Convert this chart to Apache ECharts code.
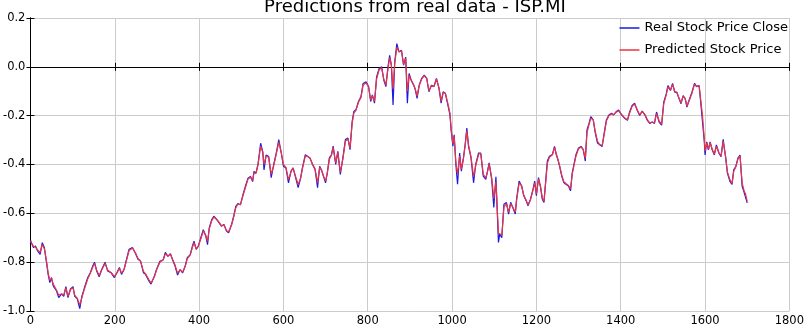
<!DOCTYPE html>
<html>
<head>
<meta charset="utf-8">
<script src="https://cdn.jsdelivr.net/npm/echarts@6/dist/echarts.min.js"></script>
<style>
html,body{margin:0;padding:0;background:#fff;}
#chart{width:807px;height:327px;}
</style>
</head>
<body>
<div id="chart"></div>
<script>
const chartTitle = 'Predictions from real data - ISP.MI';
const seriesNames = ['Real Stock Price Close', 'Predicted Stock Price'];
const xTicks = [0, 200, 400, 600, 800, 1000, 1200, 1400, 1600, 1800];
const yTicks = [-1.0, -0.8, -0.6, -0.4, -0.2, 0.0, 0.2];

const steps = [0,7,12,17,23,28,33,38,42,46,50,54,62,67,74,79,84,89,95,101,105,111,117,122,128,136,142,148,152,157,163,169,177,183,191,199,205,211,216,222,228,234,242,246,250,255,261,268,273,281,286,
290,294,299,307,315,320,326,332,337,343,349,355,361,367,372,379,384,388,393,398,404,410,416,420,424,430,435,442,448,453,459,465,470,477,482,487,492,498,504,511,516,522,527,530,535,540,546,551,554,559,565,
571,577,583,589,595,600,606,612,618,623,630,635,641,645,652,657,663,669,675,681,686,691,696,700,704,709,714,718,724,729,735,741,747,753,758,763,767,772,778,784,789,796,802,807,811,816,821,827,833,838,843,
848,852,856,860,864,869,874,880,885,890,894,898,903,909,913,917,922,928,934,940,945,951,957,963,969,974,979,984,990,995,998,1002,1005,1009,1013,1018,1022,1027,1031,1035,1039,1045,1051,1056,1063,1068,1074,1080,1084,1088,1094,1099,1104,1110,1113,1118,1123,1129,
1134,1139,1144,1150,1153,1159,1165,1170,1176,1180,1186,1192,1196,1200,1205,1210,1214,1218,1222,1226,1231,1238,1243,1247,1251,1255,1260,1265,1270,1276,1281,1285,1289,1294,1300,1306,1311,1316,1320,1325,1329,1335,1339,1345,1350,1356,1362,1366,1372,1378,1383,1389,1395,1402,
1410,1416,1421,1427,1433,1439,1445,1451,1458,1463,1469,1475,1480,1485,1491,1497,1502,1508,1512,1518,1523,1528,1533,1537,1543,1548,1553,1557,1562,1569,1575,1580,1586,1590,1594,1598,1600,1604,1608,1612,1617,1622,1627,1633,1638,1643,1649,1653,1659,1664,1668,1673,1678,1683,1688,1693,1696,1700];

const realClose = [-0.71,-0.74,-0.734,-0.754,-0.768,-0.72,-0.74,-0.80,-0.85,-0.884,-0.863,-0.897,-0.918,-0.945,-0.93,-0.94,-0.90,-0.945,-0.91,-0.90,-0.94,-0.95,-0.99,-0.94,-0.905,-0.863,-0.843,-0.815,-0.80,-0.836,-0.86,-0.83,-0.80,-0.836,-0.843,-0.863,-0.843,-0.822,-0.85,-0.83,-0.788,-0.747,-0.74,-0.738,-0.768,-0.788,-0.795,-0.843,-0.85,-0.877,-0.89,
-0.89,-0.857,-0.83,-0.796,-0.79,-0.76,-0.776,-0.765,-0.79,-0.816,-0.853,-0.83,-0.844,-0.816,-0.782,-0.769,-0.735,-0.714,-0.748,-0.735,-0.70,-0.667,-0.694,-0.728,-0.66,-0.626,-0.612,-0.626,-0.64,-0.653,-0.646,-0.673,-0.68,-0.646,-0.612,-0.571,-0.56,-0.565,-0.524,-0.483,-0.456,-0.449,-0.47,-0.429,-0.435,-0.395,-0.313,-0.347,-0.422,-0.361,-0.367,
-0.454,-0.40,-0.353,-0.298,-0.353,-0.407,-0.414,-0.475,-0.427,-0.414,-0.461,-0.495,-0.454,-0.414,-0.36,-0.366,-0.373,-0.40,-0.42,-0.495,-0.407,-0.427,-0.454,-0.475,-0.434,-0.373,-0.36,-0.325,-0.40,-0.346,-0.441,-0.373,-0.298,-0.292,-0.339,-0.224,-0.183,-0.176,-0.142,-0.122,-0.068,-0.061,-0.081,-0.142,-0.115,-0.149,-0.041,-0.007,0.0,-0.054,-0.081,
0.0,0.047,0.007,-0.156,0.02,0.095,0.061,0.068,0.007,0.04,-0.149,-0.027,-0.054,-0.075,-0.095,-0.129,-0.075,-0.047,-0.034,-0.047,-0.102,-0.075,-0.081,-0.047,-0.088,-0.149,-0.102,-0.108,-0.156,-0.197,-0.264,-0.325,-0.278,-0.40,-0.481,-0.353,-0.427,-0.373,-0.319,-0.251,-0.325,-0.373,-0.475,-0.40,-0.353,-0.353,-0.448,-0.461,-0.427,-0.393,-0.461,-0.576,-0.45,-0.719,-0.685,-0.70,-0.563,-0.556,
-0.603,-0.555,-0.576,-0.603,-0.542,-0.468,-0.488,-0.528,-0.549,-0.569,-0.542,-0.501,-0.468,-0.528,-0.454,-0.495,-0.542,-0.555,-0.468,-0.386,-0.366,-0.359,-0.326,-0.359,-0.38,-0.407,-0.447,-0.474,-0.481,-0.488,-0.508,-0.434,-0.40,-0.359,-0.332,-0.326,-0.339,-0.386,-0.258,-0.231,-0.204,-0.218,-0.265,-0.312,-0.319,-0.326,-0.258,-0.218,-0.197,-0.19,-0.197,-0.184,-0.177,-0.197,
-0.212,-0.219,-0.185,-0.158,-0.149,-0.178,-0.199,-0.181,-0.199,-0.219,-0.232,-0.226,-0.232,-0.185,-0.226,-0.239,-0.145,-0.111,-0.077,-0.097,-0.068,-0.104,-0.104,-0.124,-0.151,-0.118,-0.131,-0.165,-0.138,-0.104,-0.068,-0.081,-0.077,-0.084,-0.226,-0.30,-0.361,-0.307,-0.34,-0.307,-0.34,-0.361,-0.32,-0.354,-0.368,-0.297,-0.374,-0.435,-0.469,-0.482,-0.422,-0.408,-0.374,-0.361,-0.489,-0.516,-0.523,-0.557];

const predicted = [-0.715,-0.735,-0.738,-0.75,-0.76,-0.728,-0.745,-0.795,-0.845,-0.875,-0.865,-0.89,-0.915,-0.935,-0.93,-0.935,-0.905,-0.94,-0.912,-0.905,-0.935,-0.948,-0.975,-0.945,-0.91,-0.868,-0.845,-0.82,-0.805,-0.832,-0.855,-0.832,-0.805,-0.832,-0.842,-0.858,-0.845,-0.825,-0.845,-0.83,-0.792,-0.752,-0.742,-0.742,-0.765,-0.785,-0.795,-0.838,-0.848,-0.872,-0.885,
-0.885,-0.86,-0.832,-0.8,-0.79,-0.765,-0.775,-0.768,-0.788,-0.812,-0.845,-0.832,-0.84,-0.818,-0.785,-0.77,-0.74,-0.72,-0.745,-0.735,-0.705,-0.672,-0.69,-0.715,-0.665,-0.63,-0.615,-0.625,-0.638,-0.65,-0.648,-0.67,-0.675,-0.648,-0.615,-0.578,-0.562,-0.565,-0.528,-0.488,-0.46,-0.452,-0.465,-0.435,-0.435,-0.4,-0.325,-0.35,-0.40,-0.365,-0.37,
-0.44,-0.405,-0.358,-0.308,-0.352,-0.4,-0.412,-0.462,-0.43,-0.415,-0.455,-0.482,-0.455,-0.418,-0.365,-0.366,-0.374,-0.398,-0.418,-0.475,-0.412,-0.425,-0.45,-0.468,-0.436,-0.378,-0.362,-0.33,-0.392,-0.35,-0.43,-0.378,-0.305,-0.295,-0.332,-0.232,-0.19,-0.178,-0.145,-0.125,-0.075,-0.065,-0.082,-0.135,-0.118,-0.142,-0.05,-0.012,-0.004,-0.05,-0.075,
-0.008,0.038,0.008,-0.09,0.015,0.08,0.062,0.065,0.01,0.035,-0.1,-0.035,-0.055,-0.074,-0.092,-0.12,-0.078,-0.05,-0.036,-0.048,-0.098,-0.078,-0.08,-0.05,-0.086,-0.14,-0.105,-0.108,-0.15,-0.19,-0.255,-0.315,-0.285,-0.39,-0.44,-0.365,-0.42,-0.375,-0.322,-0.262,-0.32,-0.37,-0.45,-0.405,-0.358,-0.355,-0.44,-0.455,-0.43,-0.398,-0.455,-0.54,-0.47,-0.68,-0.685,-0.69,-0.575,-0.56,
-0.595,-0.56,-0.575,-0.595,-0.548,-0.475,-0.488,-0.525,-0.548,-0.565,-0.545,-0.505,-0.475,-0.52,-0.46,-0.492,-0.538,-0.55,-0.475,-0.395,-0.37,-0.36,-0.33,-0.355,-0.378,-0.405,-0.442,-0.47,-0.478,-0.486,-0.5,-0.44,-0.405,-0.365,-0.335,-0.328,-0.338,-0.375,-0.27,-0.235,-0.21,-0.218,-0.26,-0.305,-0.318,-0.322,-0.265,-0.222,-0.2,-0.192,-0.196,-0.186,-0.18,-0.195,
-0.21,-0.217,-0.19,-0.162,-0.152,-0.175,-0.196,-0.183,-0.197,-0.216,-0.23,-0.226,-0.23,-0.192,-0.222,-0.235,-0.152,-0.115,-0.082,-0.095,-0.072,-0.1,-0.104,-0.122,-0.148,-0.12,-0.13,-0.16,-0.14,-0.108,-0.072,-0.08,-0.078,-0.085,-0.2,-0.29,-0.345,-0.312,-0.338,-0.31,-0.338,-0.358,-0.325,-0.352,-0.365,-0.305,-0.37,-0.43,-0.462,-0.478,-0.428,-0.41,-0.378,-0.365,-0.475,-0.51,-0.52,-0.55];

const FONT = 'DejaVu Sans';
const chart = echarts.init(document.getElementById('chart'), null, {renderer: 'canvas'});

const xMin = xTicks[0], xMax = xTicks[xTicks.length - 1], xInt = xTicks[1] - xTicks[0];
const yMin = yTicks[0], yMax = yTicks[yTicks.length - 1], yInt = 0.2;

function fmtY(v) { return Math.abs(v) < 1e-9 ? '0.0' : v.toFixed(1); }
function fmtX(v) { return String(Math.round(v)); }

const baseAxisLine = {show: true, lineStyle: {color: '#000', width: 1}};
const baseTick = {show: true, inside: true, length: 4, lineStyle: {color: '#000', width: 1}};

chart.setOption({
  animation: false,
  backgroundColor: '#fff',
  title: {
    text: chartTitle,
    left: 410, textAlign: 'center',
    top: -7,
    textStyle: {fontFamily: FONT, fontSize: 18, fontWeight: 'normal', color: '#000'}
  },
  legend: {
    orient: 'vertical',
    right: 19, top: 21,
    padding: 0,
    itemWidth: 20, itemHeight: 1.5, itemGap: 8,
    icon: 'rect',
    textStyle: {fontFamily: FONT, fontSize: 13, color: '#000', lineHeight: 14},
    data: seriesNames
  },
  grid: {left: 27, right: 13, top: 18, bottom: 15, containLabel: false},
  xAxis: [{
    type: 'value', min: xMin, max: xMax, interval: xInt,
    axisLine: baseAxisLine, axisTick: baseTick,
    axisLabel: {color: '#000', fontFamily: FONT, fontSize: 11.5, margin: 4, formatter: fmtX, showMaxLabel: true, showMinLabel: true},
    splitLine: {show: true, lineStyle: {color: '#cccccc', width: 1}}
  }, {
    type: 'value', position: 'top', min: xMin, max: xMax, interval: xInt,
    axisLine: baseAxisLine, axisTick: baseTick, axisLabel: {show: false}, splitLine: {show: false}
  }],
  yAxis: [{
    type: 'value', min: yMin, max: yMax, interval: yInt,
    axisLine: baseAxisLine, axisTick: baseTick,
    axisLabel: {color: '#000', fontFamily: FONT, fontSize: 11.5, margin: 5, formatter: fmtY},
    splitLine: {show: true, lineStyle: {color: '#cccccc', width: 1}}
  }, {
    type: 'value', position: 'right', min: yMin, max: yMax, interval: yInt,
    axisLine: baseAxisLine, axisTick: baseTick, axisLabel: {show: false}, splitLine: {show: false}
  }],
  series: [{
    name: seriesNames[0], type: 'line', showSymbol: false, symbol: 'none',
    xAxisIndex: 0, yAxisIndex: 0,
    itemStyle: {color: '#1a1ae6'},
    lineStyle: {color: '#1a1ae6', width: 1.2},
    data: steps.map((s, i) => [s, realClose[i]]),
    z: 2
  }, {
    name: seriesNames[1], type: 'line', showSymbol: false, symbol: 'none',
    xAxisIndex: 0, yAxisIndex: 0,
    itemStyle: {color: '#ee3340'},
    lineStyle: {color: '#ee3340', width: 1.2},
    data: steps.map((s, i) => [s, predicted[i]]),
    z: 3
  }]
});
</script>
</body>
</html>
